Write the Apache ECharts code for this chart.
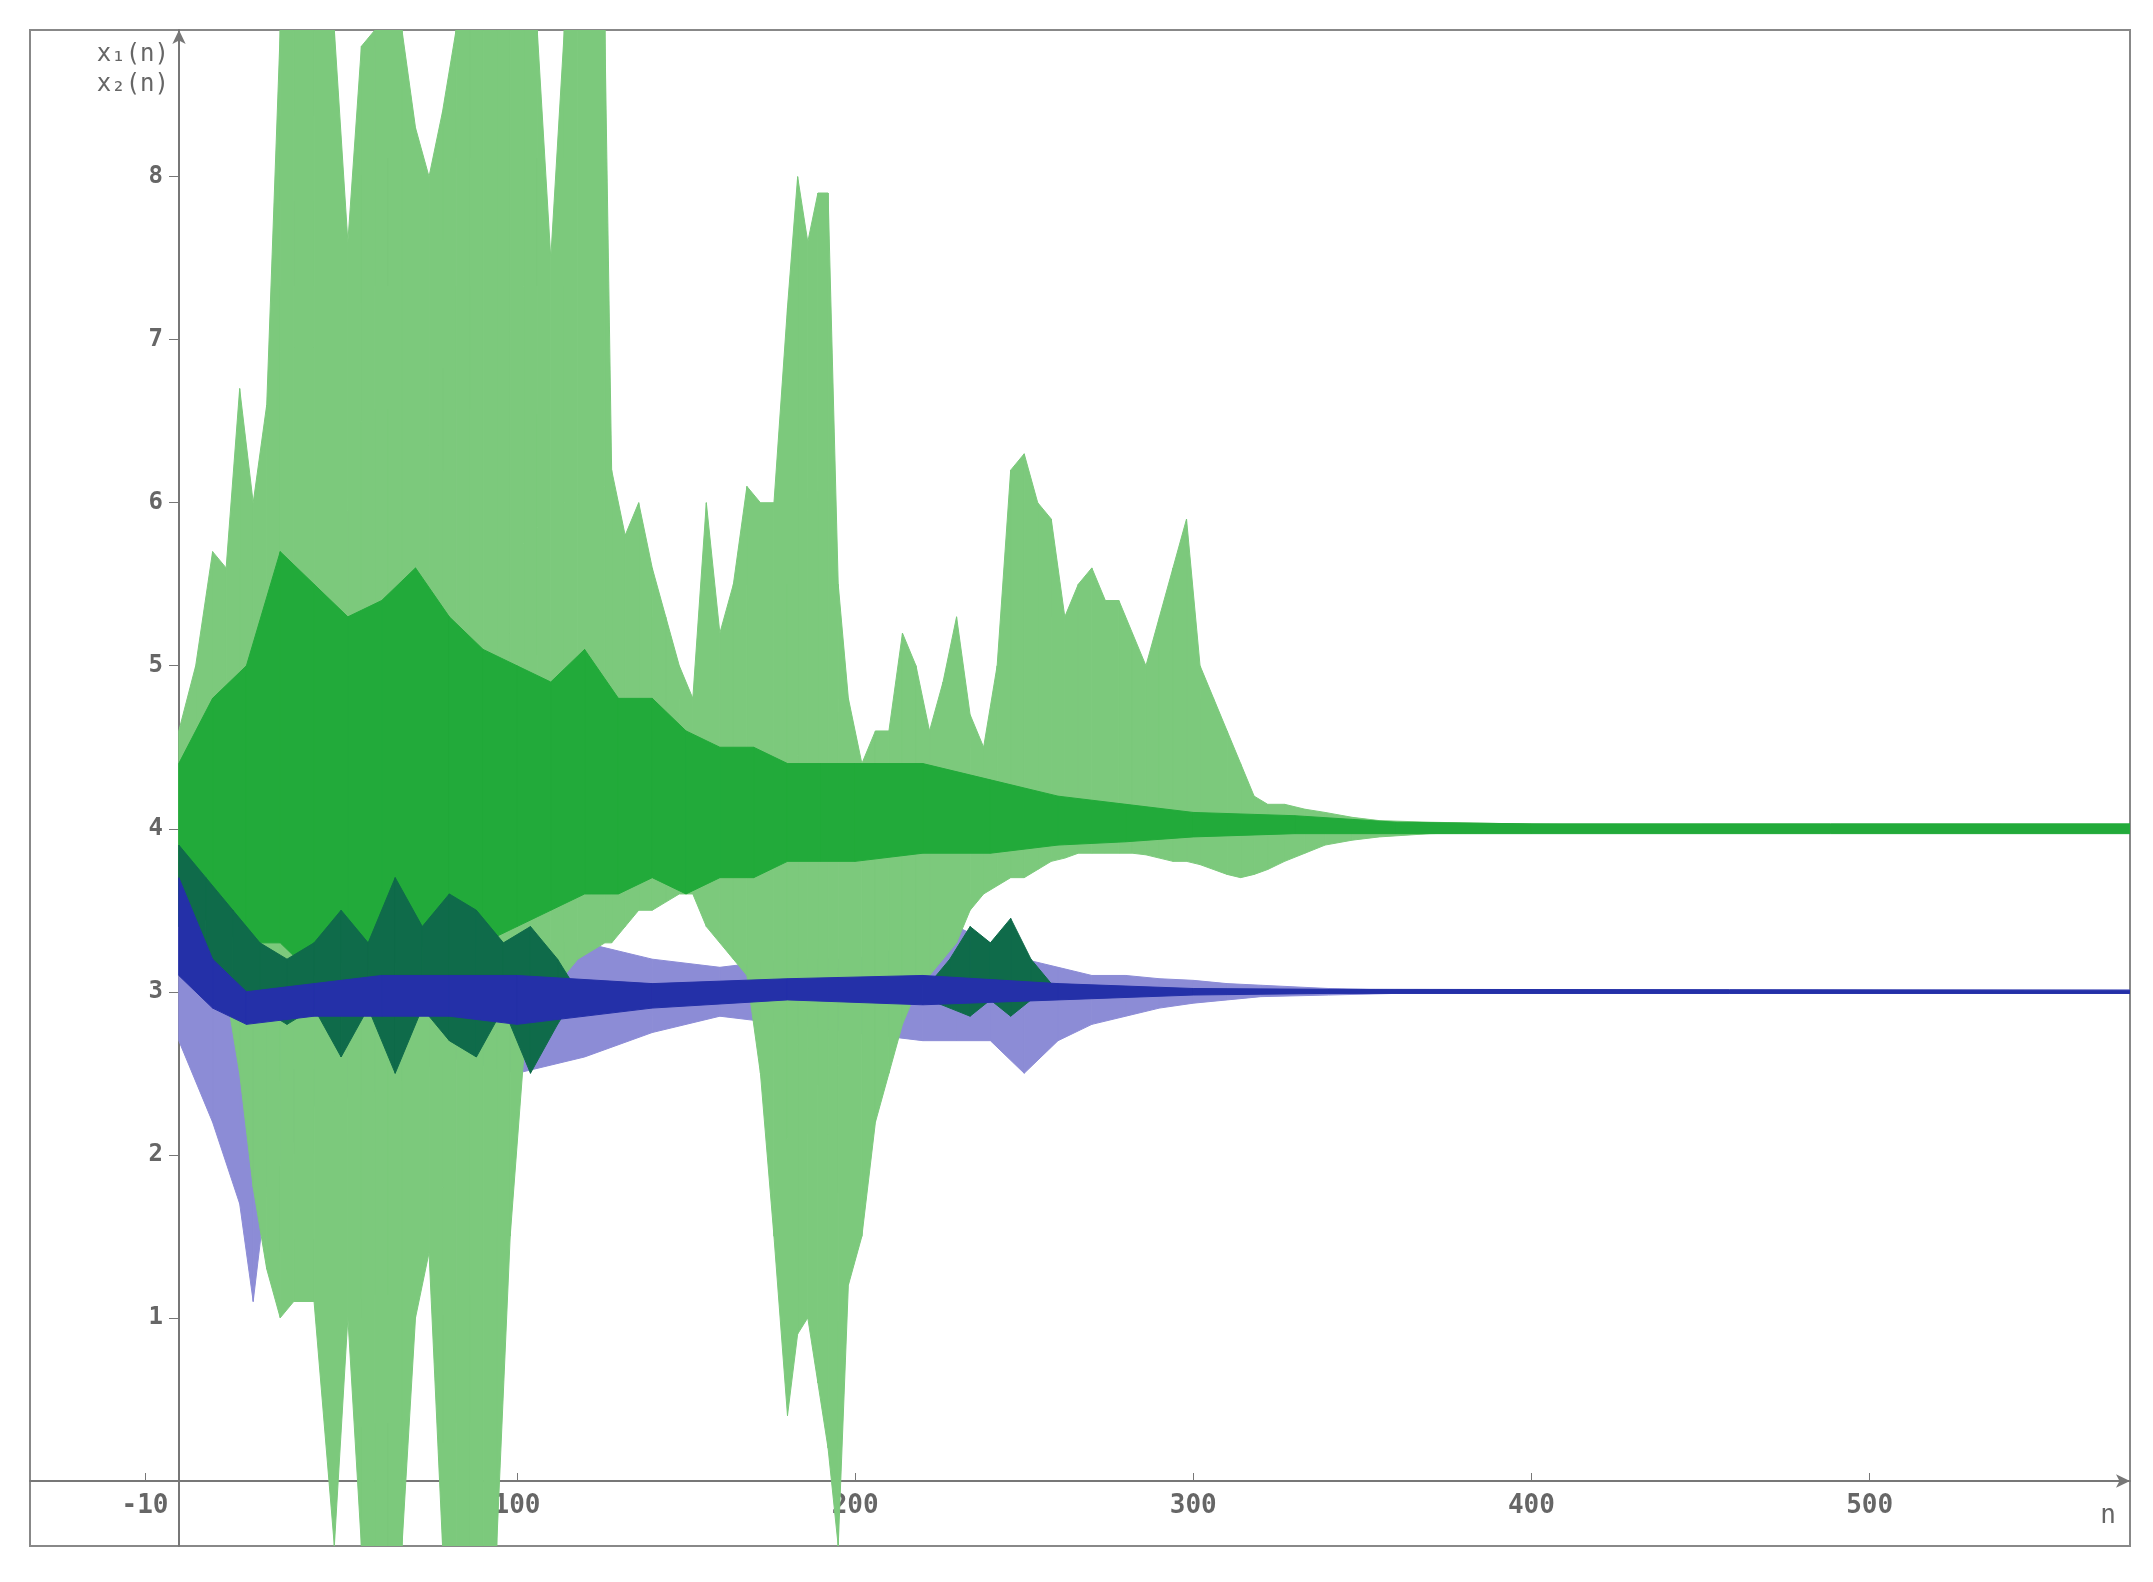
<!DOCTYPE html>
<html><head><meta charset="utf-8">
<script src="https://cdn.jsdelivr.net/npm/echarts@6/dist/echarts.min.js"></script>
<style>html,body{margin:0;padding:0;background:#fff}#c{width:2153px;height:1582px}</style>
</head><body><div id="c"></div>
<script>
// light green envelope (x2 spread)
const lgN  = [0,5,10,14,18,22,26,30,34,40,46,50,54,58,62,66,70,74,78,82,86,90,94,98,102,106,110,114,118,122,126,128,132,136,140,144,148,152,156,160,164,168,172,176,180,183,186,189,192,195,198,202,206,210,214,218,222,226,230,234,238,242,246,250,254,258,262,266,270,274,278,282,286,290,294,298,302,306,310,314,318,322,327,333,339,347,355,370,396,430,577];
const lgHi = [4.6,5.0,5.7,5.6,6.7,6.0,6.6,8.9,8.9,8.9,8.9,7.6,8.8,8.9,8.9,8.9,8.3,8.0,8.4,8.9,8.9,8.9,8.9,8.9,8.9,8.9,7.5,8.9,8.9,8.9,8.9,6.2,5.8,6.0,5.6,5.3,5.0,4.8,6.0,5.2,5.5,6.1,6.0,6.0,7.2,8.0,7.6,7.9,7.9,5.5,4.8,4.4,4.6,4.6,5.2,5.0,4.6,4.9,5.3,4.7,4.5,5.0,6.2,6.3,6.0,5.9,5.3,5.5,5.6,5.4,5.4,5.2,5.0,5.3,5.6,5.9,5.0,4.8,4.6,4.4,4.2,4.15,4.15,4.12,4.1,4.07,4.05,4.04,4.03,4.02,4.02];
const lgLo = [3.8,3.6,3.5,3.0,2.5,1.8,1.3,1.0,1.1,1.1,-0.4,1.0,-0.4,-0.4,-0.4,-0.4,1.0,1.4,-0.4,-0.4,-0.4,-0.4,-0.4,1.5,2.6,2.8,3.0,3.1,3.2,3.25,3.3,3.3,3.4,3.5,3.5,3.55,3.6,3.6,3.4,3.3,3.2,3.1,2.5,1.5,0.4,0.9,1.0,0.6,0.2,-0.4,1.2,1.5,2.2,2.5,2.8,3.0,3.1,3.2,3.3,3.5,3.6,3.65,3.7,3.7,3.75,3.8,3.82,3.85,3.85,3.85,3.85,3.85,3.84,3.82,3.8,3.8,3.78,3.75,3.72,3.7,3.72,3.75,3.8,3.85,3.9,3.93,3.95,3.97,3.98,3.98,3.98];
// green core band
const gN  = [0,10,20,30,40,50,60,70,80,90,100,110,120,130,140,150,160,170,180,190,200,220,240,260,280,300,330,360,400,577];
const gHi = [4.4,4.8,5.0,5.7,5.5,5.3,5.4,5.6,5.3,5.1,5.0,4.9,5.1,4.8,4.8,4.6,4.5,4.5,4.4,4.4,4.4,4.4,4.3,4.2,4.15,4.1,4.08,4.04,4.03,4.03];
const gLo = [3.6,3.4,3.3,3.3,3.1,3.2,3.1,3.3,3.2,3.3,3.4,3.5,3.6,3.6,3.7,3.6,3.7,3.7,3.8,3.8,3.8,3.85,3.85,3.9,3.92,3.95,3.97,3.97,3.97,3.97];
// dark teal band (x2 dipping)
const tN  = [0,8,16,24,32,40,48,56,64,72,80,88,96,104,112,118];
const tHi = [3.9,3.7,3.5,3.3,3.2,3.3,3.5,3.3,3.7,3.4,3.6,3.5,3.3,3.4,3.2,3.0];
const tLo = [3.4,3.2,3.0,2.9,2.8,2.9,2.6,2.9,2.5,2.9,2.7,2.6,2.9,2.5,2.8,3.0];
const t2N = [222,228,234,240,246,252,258];
const t2Hi = [3.05,3.2,3.4,3.3,3.45,3.2,3.05];
const t2Lo = [2.95,2.9,2.85,2.95,2.85,2.95,3.0];
// light blue band (x1 spread)
const lbN  = [0,10,18,22,26,40,60,80,100,120,140,160,180,200,220,230,240,250,260,270,280,290,300,310,320,340,360,380,577];
const lbHi = [3.5,3.3,3.2,3.2,3.15,3.1,3.15,3.2,3.3,3.3,3.2,3.15,3.2,3.2,3.3,3.4,3.3,3.2,3.15,3.1,3.1,3.08,3.07,3.05,3.04,3.02,3.01,3.01,3.01];
const lbLo = [2.7,2.2,1.7,1.1,1.8,2.3,2.4,2.6,2.5,2.6,2.75,2.85,2.8,2.75,2.7,2.7,2.7,2.5,2.7,2.8,2.85,2.9,2.93,2.95,2.97,2.98,2.99,2.99,2.99];
// dark blue band (x1 core)
const dbN  = [0,10,20,40,60,80,100,140,180,220,260,300,340,577];
const dbHi = [3.7,3.2,3.0,3.05,3.1,3.1,3.1,3.05,3.08,3.1,3.05,3.02,3.015,3.01];
const dbLo = [3.1,2.9,2.8,2.85,2.85,2.85,2.8,2.9,2.95,2.92,2.95,2.98,2.99,2.99];
const xTicks = [-10,100,200,300,400,500];
const yTicks = [1,2,3,4,5,6,7,8];

function band(n, hi, lo, color, z){
  const data = n.map((v,i)=>[v, lo[i], hi[i]]);
  return {type:'custom', z:z, silent:true, data:data,
    renderItem:function(params, api){
      const i = params.dataIndex;
      if(i >= data.length-1) return;
      const a = data[i], b = data[i+1];
      const p1 = api.coord([a[0],a[2]]), p2 = api.coord([b[0],b[2]]),
            p3 = api.coord([b[0],b[1]]), p4 = api.coord([a[0],a[1]]);
      return {type:'polygon', shape:{points:[p1,p2,p3,p4]}, style:{fill:color, stroke:color, lineWidth:1}};
    },
    clip:true, encode:{x:0,y:[1,2]}};
}
const chart = echarts.init(document.getElementById('c'));
const gridH = 1582-30-36, gridW = 2153-30-23;
const xOff = Math.round(gridH*0.4/9.3), yOff = Math.round(gridW*44/621);
chart.setOption({
  animation:false,
  grid:{left:30,right:23,top:30,bottom:36,show:true,borderColor:'#888',borderWidth:2},
  xAxis:{type:'value',min:-44,max:577,position:'bottom',offset:-xOff,
    axisLine:{onZero:false,lineStyle:{color:'#777',width:2},symbol:['none','arrow'],symbolSize:[10,14]},
    axisTick:{customValues:xTicks.concat([0]),length:8,inside:true,lineStyle:{color:'#777'}},
    axisLabel:{customValues:xTicks,color:'#666',fontSize:26,fontWeight:'bold',fontFamily:'DejaVu Sans Mono',margin:12},
    splitLine:{show:false},name:'n',nameLocation:'end',nameGap:-14,
    nameTextStyle:{color:'#666',fontSize:26,fontFamily:'DejaVu Sans Mono',verticalAlign:'top',align:'right',padding:[22,0,0,0]}},
  yAxis:{type:'value',min:-0.4,max:8.9,position:'left',offset:-yOff,
    axisLine:{onZero:false,lineStyle:{color:'#777',width:2},symbol:['none','arrow'],symbolSize:[10,14]},
    axisTick:{customValues:yTicks,length:10,lineStyle:{color:'#777'}},
    axisLabel:{customValues:yTicks,color:'#666',fontSize:24,fontWeight:'bold',fontFamily:'DejaVu Sans Mono',margin:16},
    splitLine:{show:false},
    name:'x\u2081(n)\nx\u2082(n)',nameLocation:'end',nameGap:-70,
    nameTextStyle:{color:'#666',fontSize:24,fontFamily:'DejaVu Sans Mono',align:'right',padding:[0,10,0,0],lineHeight:30}},
  series:[
    band(lbN,lbHi,lbLo,'#8c8cd6',2),
    band(lgN,lgHi,lgLo,'#7cc97c',3),
    band(gN,gHi,gLo,'#22aa3a',4),
    band(tN,tHi,tLo,'#0f6b4a',5),
    band(t2N,t2Hi,t2Lo,'#0f6b4a',5),
    band(dbN,dbHi,dbLo,'#2430a8',6)
  ]
});
</script></body></html>
